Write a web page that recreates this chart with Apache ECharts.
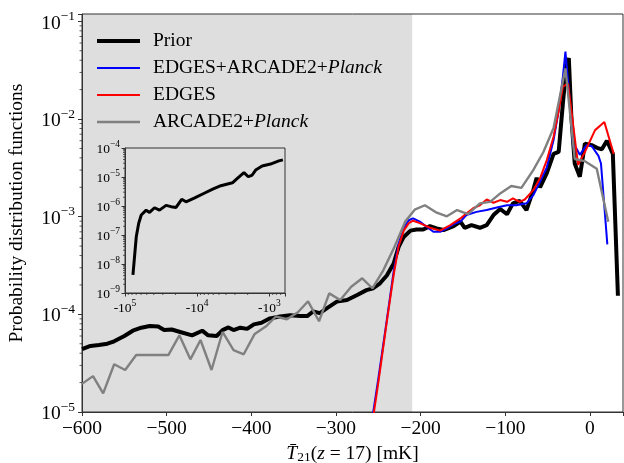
<!DOCTYPE html>
<html>
<head>
<meta charset="UTF-8">
<title>T21 PDF</title>
<script type="text/javascript" src="https://cdn.jsdelivr.net/npm/echarts@6/dist/echarts.min.js"></script>
<style>html,body{margin:0;padding:0;background:#fff;}</style>
</head>
<body>
<div id="main" style="width:624px;height:463px"></div>

<script type="text/javascript">
// main panel: T21 (mK) vs probability
var priorT = [-600,-590,-580,-570,-562,-550,-540,-530,-520,-510,-503,-494,-484,-470,-458,-451,-441,-434,-427,-421,
  -413,-405,-397,-388,-378,-366,-354,-342,-334,-327,-319,-311,-299,-287,-275,-264,-256,-248,-240,-232,
  -226,-220,-212,-205,-197,-189,-181,-173,-161,-153,-148,-140,-130,-122,-114,-106,-98,-91,-83,-75,
  -67,-63,-59,-51,-43,-37,-32,-28,-25,-22,-18,-12,-6,2,10,14,20,27,33];
var priorP = [4.4e-5,4.75e-5,4.85e-5,5.0e-5,5.3e-5,6.0e-5,6.8e-5,7.3e-5,7.6e-5,7.5e-5,6.9e-5,7.0e-5,6.6e-5,6.1e-5,6.8e-5,6.1e-5,6.0e-5,6.9e-5,7.35e-5,6.9e-5,
  7.3e-5,7.1e-5,7.9e-5,8.2e-5,9.1e-5,9.5e-5,9.8e-5,9.6e-5,9.6e-5,1.07e-4,1.03e-4,1.15e-4,1.35e-4,1.4e-4,1.58e-4,1.77e-4,1.85e-4,2.08e-4,2.5e-4,3.3e-4,
  4.9e-4,6.2e-4,7.2e-4,7.4e-4,7.4e-4,8.0e-4,7.6e-4,7.3e-4,8.0e-4,8.9e-4,7.7e-4,8.2e-4,7.7e-4,8.2e-4,1.04e-3,1.2e-3,1.06e-3,1.37e-3,1.45e-3,1.17e-3,
  1.87e-3,2.5e-3,2.0e-3,2.8e-3,4.4e-3,4.6e-3,1.45e-2,3.4e-2,4.2e-2,1.05e-2,3.5e-3,2.56e-3,5.6e-3,5.4e-3,5.0e-3,4.9e-3,6.0e-3,4.4e-3,1.55e-4];

var allT = [-262,-250,-240,-232,-226,-220,-214,-209,-201,-193,-185,-177,-169,-161,-153,-146,-134,-122,-110,-98,
  -87,-75,-67,-59,-51,-43,-37,-32,-29,-24,-20,-16,-12,-4,2,10,13,20.5];
var allP = [4.5e-6,2.2e-5,8.7e-5,2.7e-4,5.3e-4,7.6e-4,9.2e-4,9.6e-4,8.9e-4,7.9e-4,7.0e-4,7.0e-4,7.6e-4,8.4e-4,8.9e-4,1.04e-3,1.12e-3,1.17e-3,1.24e-3,1.31e-3,
  1.31e-3,1.37e-3,1.66e-3,2.28e-3,3.2e-3,6.1e-3,1.23e-2,2.7e-2,4.9e-2,1.56e-2,5.4e-3,5.0e-3,4.3e-3,5.4e-3,5.3e-3,4.2e-3,3.5e-3,5.2e-4];

var edgesT = [-262,-250,-240,-232,-226,-220,-214,-209,-201,-189,-177,-165,-153,-146,-138,-130,-122,-114,-106,-98,
  -91,-83,-77,-67,-59,-51,-43,-37,-32,-26,-22,-14,-6,6,17,28];
var edgesP = [4.0e-6,2.0e-5,8.4e-5,2.5e-4,5.0e-4,7.2e-4,8.6e-4,9.1e-4,8.6e-4,7.7e-4,7.2e-4,8.2e-4,9.6e-4,1.08e-3,1.22e-3,1.31e-3,1.5e-3,1.39e-3,1.48e-3,1.42e-3,
  1.54e-3,1.42e-3,1.5e-3,1.87e-3,2.47e-3,3.8e-3,6.6e-3,1.2e-2,2.15e-2,2.3e-2,1.23e-2,3.4e-3,4.6e-3,7.7e-3,9.3e-3,4.4e-3];

var arcT = [-600,-587,-575,-562,-549,-536,-523,-511,-498,-485,-472,-460,-447,-434,-421,-409,-396,-383,-371,-358,
  -345,-333,-320,-308,-295,-282,-269,-257,-244,-231,-218,-207,-195,-181,-169,-157,-144,-130,-118,-106,
  -93,-81,-67,-55,-43,-29,-18,-6,8,21.6];
var arcP = [1.94e-5,2.33e-5,1.55e-5,3.08e-5,2.69e-5,3.83e-5,3.83e-5,3.83e-5,3.83e-5,6.1e-5,3.46e-5,5.46e-5,2.69e-5,6.6e-5,4.3e-5,3.9e-5,6.3e-5,7.5e-5,9.5e-5,8.9e-5,
  1.05e-4,1.36e-4,8.5e-5,1.64e-4,1.4e-4,1.92e-4,2.34e-4,1.85e-4,2.84e-4,4.9e-4,9.0e-4,1.18e-3,1.31e-3,1.1e-3,1.01e-3,1.17e-3,1.06e-3,1.37e-3,1.42e-3,1.73e-3,
  2.06e-3,1.97e-3,3.0e-3,4.6e-3,8.1e-3,3.3e-2,3.9e-3,3.7e-3,3.1e-3,8.9e-4];

// inset: prior at very negative T21
var insetT = [-77600,-69800,-64700,-59600,-50900,-45700,-39000,-33300,-27000,-23000,-19600,-16400,-14300,-11000,
  -8000,-6100,-4700,-3250,-2780,-2250,-1960,-1730,-1550,-1260,-966,-740,-650];
var insetP = [4.2e-9,8.7e-8,2.5e-7,4.9e-7,7.2e-7,6.0e-7,8.7e-7,7.2e-7,1.05e-6,9.5e-7,8.9e-7,1.7e-6,1.4e-6,1.86e-6,
  2.75e-6,3.8e-6,5.0e-6,6.3e-6,8.9e-6,1.41e-5,1.02e-5,1.17e-5,1.74e-5,2.4e-5,2.8e-5,3.6e-5,3.9e-5];

var names = ['Prior', 'EDGES+ARCADE2+Planck', 'EDGES', 'ARCADE2+Planck'];
var shadeRange = [-600, -210];

var FONT = 'Liberation Serif';
var AX = '#333';

function pairs(xs, ys) { return xs.map(function (x, i) { return [x, ys[i]]; }); }

function powLabel(prefix) {
  return function (v) {
    var e = Math.log10(v);
    if (Math.abs(e - Math.round(e)) > 0.01) return '';
    e = Math.round(e);
    var s = e < 0 ? '\u2212' + (-e) : '' + e;
    return '{b|' + prefix + '10}{s|' + s + '}';
  };
}

// matplotlib-like minor ticks at 2..9 x 10^n
function minorVals(lo, hi) {
  var out = [];
  for (var n = Math.floor(Math.log10(lo)); n <= Math.ceil(Math.log10(hi)); n++) {
    for (var m = 2; m <= 9; m++) {
      var v = m * Math.pow(10, n);
      if (v > lo && v < hi) out.push(v);
    }
  }
  return out;
}
function tickItem(dir, len) {
  return function (params, api) {
    var p = api.coord([api.value(0), api.value(1)]);
    var x2 = p[0], y2 = p[1];
    if (dir === 'left') x2 -= len; else y2 += len;
    return { type: 'line', shape: { x1: p[0], y1: p[1], x2: x2, y2: y2 },
      style: { stroke: AX, lineWidth: 0.8 } };
  };
}
// legend bar icon of a given thickness inside a 43x14 box
function barIcon(h) {
  var t = (7 - h / 2).toFixed(2), b = (7 + h / 2).toFixed(2);
  return 'path://M0,0L0.01,0M0,14L0.01,14M0,' + t + 'H43V' + b + 'H0Z';
}

var mychart = echarts.init(document.getElementById('main'));

var bigRich = {
  b: { fontFamily: FONT, fontSize: 19.5, color: '#000', lineHeight: 24, verticalAlign: 'bottom' },
  s: { fontFamily: FONT, fontSize: 13.5, color: '#000', verticalAlign: 'top' }
};
var smallRich = {
  b: { fontFamily: FONT, fontSize: 13.5, color: '#000', lineHeight: 17, verticalAlign: 'bottom' },
  s: { fontFamily: FONT, fontSize: 9.5, color: '#000', verticalAlign: 'top' }
};

var option = {
  animation: false,
  grid: [
    { left: 82, right: 1, top: 14, bottom: 51, show: true, borderColor: AX, borderWidth: 1, z: 3,
      outerBoundsMode: 'none', containLabel: false },
    { left: 125, top: 148, width: 160, height: 145, show: true, borderColor: AX, borderWidth: 1, z: 3,
      outerBoundsMode: 'none', containLabel: false }
  ],
  legend: {
    orient: 'vertical', left: 97, top: 31, padding: 0, itemWidth: 43, itemHeight: 14, itemGap: 7,
    data: [
      { name: names[0], icon: barIcon(4) },
      { name: names[1], icon: barIcon(2.2) },
      { name: names[2], icon: barIcon(2.2) },
      { name: names[3], icon: barIcon(2.6) }
    ],
    formatter: function (name) {
      var k = name.indexOf('Planck');
      if (k < 0) return '{n|' + name + '}';
      return '{n|' + name.slice(0, k) + '}{i|Planck}';
    },
    textStyle: {
      padding: [0, 0, 0, 8],
      rich: {
        n: { fontFamily: FONT, fontSize: 19.5, color: '#000', lineHeight: 20 },
        i: { fontFamily: FONT, fontSize: 19.5, color: '#000', lineHeight: 20, fontStyle: 'italic' }
      }
    }
  },
  xAxis: [
    {
      type: 'value', gridIndex: 0, min: -600, max: 39, interval: 100, z: 3,
      axisLine: { show: true, onZero: false, lineStyle: { color: AX } },
      axisTick: { show: true, length: 4, lineStyle: { color: AX } },
      splitLine: { show: false },
      axisLabel: {
        fontFamily: FONT, fontSize: 19.5, color: '#000', margin: 7,
        formatter: function (v) {
          if (Math.abs(v % 100) > 0.01) return '';
          return v < 0 ? '\u2212' + (-v) : '' + v;
        }
      },
      name: '{i|T\u0304}{sub|21}{n|(}{i|z}{n| = 17) [mK]}',
      nameLocation: 'middle', nameGap: 25,
      nameTextStyle: {
        rich: {
          n: { fontFamily: FONT, fontSize: 19.5, color: '#000', lineHeight: 21, verticalAlign: 'top' },
          i: { fontFamily: FONT, fontSize: 19.5, color: '#000', lineHeight: 21, verticalAlign: 'top', fontStyle: 'italic' },
          sub: { fontFamily: FONT, fontSize: 13.5, color: '#000', verticalAlign: 'bottom' }
        }
      }
    },
    {
      type: 'log', gridIndex: 1, min: 608, max: 1e5, inverse: true, z: 3,
      axisLine: { show: true, onZero: false, lineStyle: { color: AX } },
      axisTick: { show: true, length: 3.5, lineStyle: { color: AX } },
      splitLine: { show: false },
      axisLabel: { margin: 5, showMaxLabel: true, formatter: powLabel('-'), rich: smallRich }
    }
  ],
  yAxis: [
    {
      type: 'log', gridIndex: 0, min: 1e-5, max: 0.119, z: 3,
      axisLine: { show: true, onZero: false, lineStyle: { color: AX } },
      axisTick: { show: true, length: 4, lineStyle: { color: AX } },
      splitLine: { show: false },
      axisLabel: { margin: 7, formatter: powLabel(''), rich: bigRich },
      name: 'Probability distribution functions',
      nameLocation: 'middle', nameGap: 55,
      nameTextStyle: { fontFamily: FONT, fontSize: 19.5, color: '#000' }
    },
    {
      type: 'log', gridIndex: 1, min: 1e-9, max: 1e-4, z: 3,
      axisLine: { show: true, onZero: false, lineStyle: { color: AX } },
      axisTick: { show: true, length: 3.5, lineStyle: { color: AX } },
      splitLine: { show: false },
      axisLabel: { margin: 5, formatter: powLabel(''), rich: smallRich }
    }
  ],
  series: [
    {
      name: 'shade', type: 'line', data: [], z: 1, silent: true,
      markArea: {
        silent: true, itemStyle: { color: '#dedede' },
        data: [[{ xAxis: shadeRange[0] }, { xAxis: shadeRange[1] }]]
      }
    },
    { name: names[0], type: 'line', data: pairs(priorT, priorP), symbol: 'none',
      lineStyle: { color: '#000', width: 4 }, itemStyle: { color: '#000' } },
    { name: names[1], type: 'line', data: pairs(allT, allP), symbol: 'none',
      lineStyle: { color: '#0000ff', width: 2 }, itemStyle: { color: '#0000ff' } },
    { name: names[2], type: 'line', data: pairs(edgesT, edgesP), symbol: 'none',
      lineStyle: { color: '#ff0000', width: 2 }, itemStyle: { color: '#ff0000' } },
    { name: names[3], type: 'line', data: pairs(arcT, arcP), symbol: 'none',
      lineStyle: { color: '#808080', width: 2.4 }, itemStyle: { color: '#808080' } },
    { name: 'inset', type: 'line', xAxisIndex: 1, yAxisIndex: 1, symbol: 'none',
      data: insetT.map(function (t, i) { return [Math.abs(t), insetP[i]]; }),
      lineStyle: { color: '#000', width: 3 }, itemStyle: { color: '#000' } },
    // minor ticks
    { type: 'custom', xAxisIndex: 0, yAxisIndex: 0, z: 4, silent: true, renderItem: tickItem('left', 2.5),
      data: minorVals(1e-5, 0.119).map(function (v) { return [-600, v]; }) },
    { type: 'custom', xAxisIndex: 1, yAxisIndex: 1, z: 4, silent: true, renderItem: tickItem('left', 2),
      data: minorVals(1e-9, 1e-4).map(function (v) { return [1e5, v]; }) },
    { type: 'custom', xAxisIndex: 1, yAxisIndex: 1, z: 4, silent: true, renderItem: tickItem('down', 2),
      data: minorVals(608, 1e5).map(function (v) { return [v, 1e-9]; }) }
  ]
};

mychart.setOption(option);
</script>
</body>
</html>
